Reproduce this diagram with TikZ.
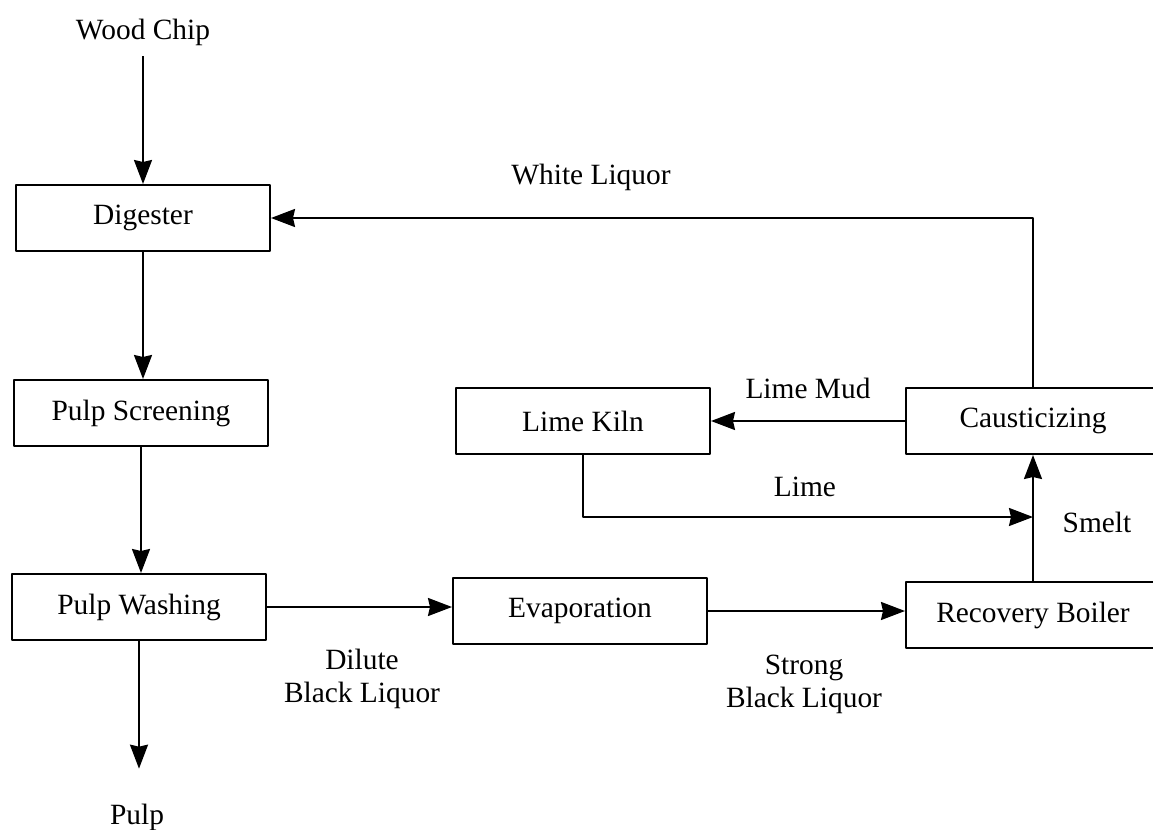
\documentclass[tikz,border=0pt]{standalone}
\usepackage{fontspec}
\setmainfont{Liberation Serif}
\usetikzlibrary{arrows.meta}
\begin{document}
\begin{tikzpicture}[x=0.5pt, y=-0.5pt, font=\fontsize{14.7}{16.5}\selectfont, line width=1pt, line join=round,
		>={Stealth[length=12pt,width=9pt,inset=1pt]},
		box/.style={draw, minimum width=127pt, minimum height=33pt, inner sep=0pt},
		flow/.style={->},
		lbl/.style={align=center, inner sep=2pt}]
		\useasboundingbox (0,0) rectangle (1153,830);
		\foreach \n/\p/\t in {dig/{143,218}/Digester, scr/{141,413}/Pulp Screening, wash/{139,607}/Pulp Washing, kiln/{583,421}/Lime Kiln, evap/{580,611}/Evaporation, caus/{1033,421}/Causticizing, rec/{1033,615}/Recovery Boiler}
		\node[box] (\n) at (\p) {\t};
		\path
		(143,32) node[lbl] (wood) {Wood Chip}
		(137,817) node[lbl] (pulp) {Pulp}
		(591,177) node[lbl] (white) {White Liquor}
		(808,388) node[lbl] (mud) {Lime Mud}
		(805,487) node[lbl] (lime) {Lime}
		(1097,522) node[lbl] (smelt) {Smelt}
		(362,679) node[lbl] (dilute) {Dilute\\Black Liquor}
		(804,684) node[lbl] (strong) {Strong\\Black Liquor}
		(1033,517) coordinate (lj)
		;
		\draw[flow, shorten <=3pt] (wood) -- (wood |- dig.north);
		\draw[flow] (dig) -- (dig |- scr.north);
		\draw[flow] (scr) -- (scr |- wash.north);
		\draw[flow, shorten >=15pt] (wash) -- (wash |- pulp.north);
		\draw[flow] (wash) -- (wash -| evap.west);
		\draw[flow] (evap) -- (evap -| rec.west);
		\draw[flow] (rec) -- (caus);
		\draw[flow] (caus) -- (kiln);
		\draw[flow] (kiln) |- (lj);
		\draw[flow] (caus) |- (dig);
	\end{tikzpicture}
\end{document}
